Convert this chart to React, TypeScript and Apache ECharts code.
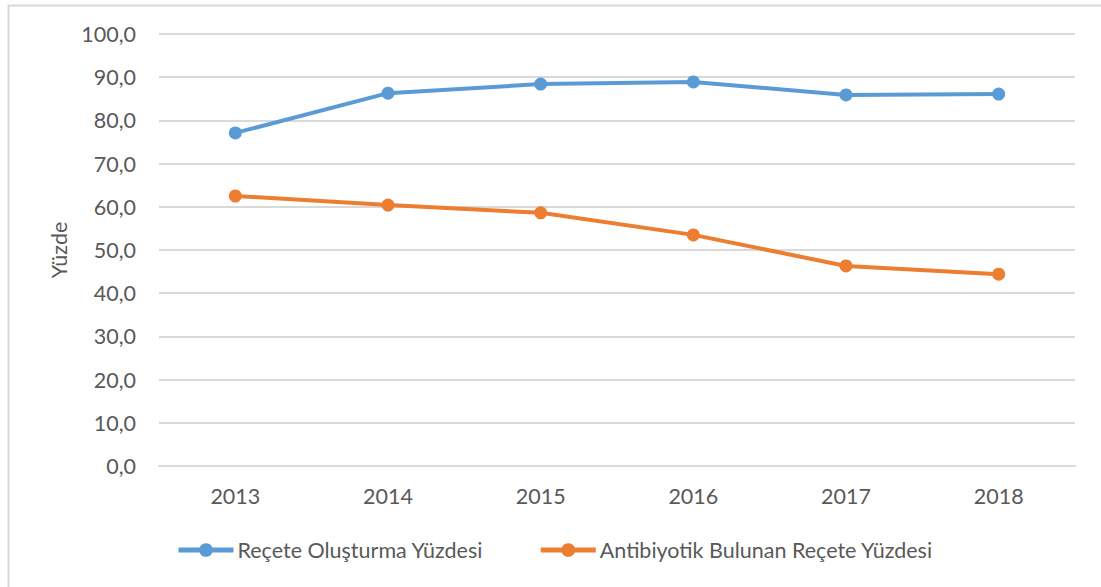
import React, { useEffect, useRef } from "react";
import * as echarts from "echarts";

const years = ["2013", "2014", "2015", "2016", "2017", "2018"];
const receteOlusturma = [77.1, 86.3, 88.4, 88.9, 85.9, 86.1];
const antibiyotikBulunan = [62.5, 60.4, 58.6, 53.5, 46.3, 44.4];
const seriesNames = ["Reçete Oluşturma Yüzdesi", "Antibiyotik Bulunan Reçete Yüzdesi"];
const yAxisTitle = "Yüzde";

const FONT = "Lato, 'Open Sans', sans-serif";
const FS = 21.5;

export default function App() {
  const ref = useRef<HTMLDivElement>(null);
  useEffect(() => {
    if (!ref.current) return;
    const chart = echarts.init(ref.current, null, { renderer: "svg" });
    const mkSeries = (name: string, data: number[], color: string) => ({
      name,
      type: "line",
      data,
      symbol: "circle",
      symbolSize: 13,
      lineStyle: { color, width: 4 },
      itemStyle: { color },
      emphasis: { disabled: true },
    });
    chart.setOption({
      animation: false,
      textStyle: { fontFamily: FONT },
      graphic: [
        {
          type: "polyline",
          shape: { points: [[8.5, 590], [8.5, 5.5], [1105, 5.5]] },
          style: { stroke: "#D9D9D9", lineWidth: 2, fill: "none" },
          silent: true,
        },
      ],
      grid: { left: 159, right: 26, top: 34, bottom: 121, containLabel: false },
      xAxis: {
        type: "category",
        data: years,
        boundaryGap: true,
        axisLine: { show: true, lineStyle: { color: "#D9D9D9", width: 2 } },
        axisTick: { show: false },
        axisLabel: { color: "#595959", fontSize: FS, margin: 19, fontFamily: FONT },
      },
      yAxis: {
        type: "value",
        min: 0,
        max: 100,
        interval: 10,
        name: yAxisTitle,
        nameLocation: "middle",
        nameGap: 89,
        nameRotate: 90,
        nameTextStyle: { color: "#595959", fontSize: FS, fontFamily: FONT },
        axisLine: { show: false },
        axisTick: { show: false },
        splitLine: { lineStyle: { color: "#D9D9D9", width: 2 } },
        axisLabel: {
          color: "#595959",
          fontSize: FS,
          margin: 23,
          fontFamily: FONT,
          formatter: (v: number) => v.toFixed(1).replace(".", ","),
        },
      },
      legend: {
        data: seriesNames,
        left: 176,
        top: 539,
        padding: 0,
        itemWidth: 55,
        itemHeight: 17,
        itemGap: 55,
        lineStyle: { width: 5 },
        textStyle: { color: "#595959", fontSize: FS, fontFamily: FONT, padding: [0, 0, 0, -1] },
      },
      series: [
        mkSeries(seriesNames[0], receteOlusturma, "#5B9BD5"),
        mkSeries(seriesNames[1], antibiyotikBulunan, "#ED7D31"),
      ],
    });
    return () => chart.dispose();
  }, []);
  return (
    <div
      ref={ref}
      style={{ position: "fixed", left: 0, top: 0, width: 1101, height: 587, background: "#fff" }}
    />
  );
}
